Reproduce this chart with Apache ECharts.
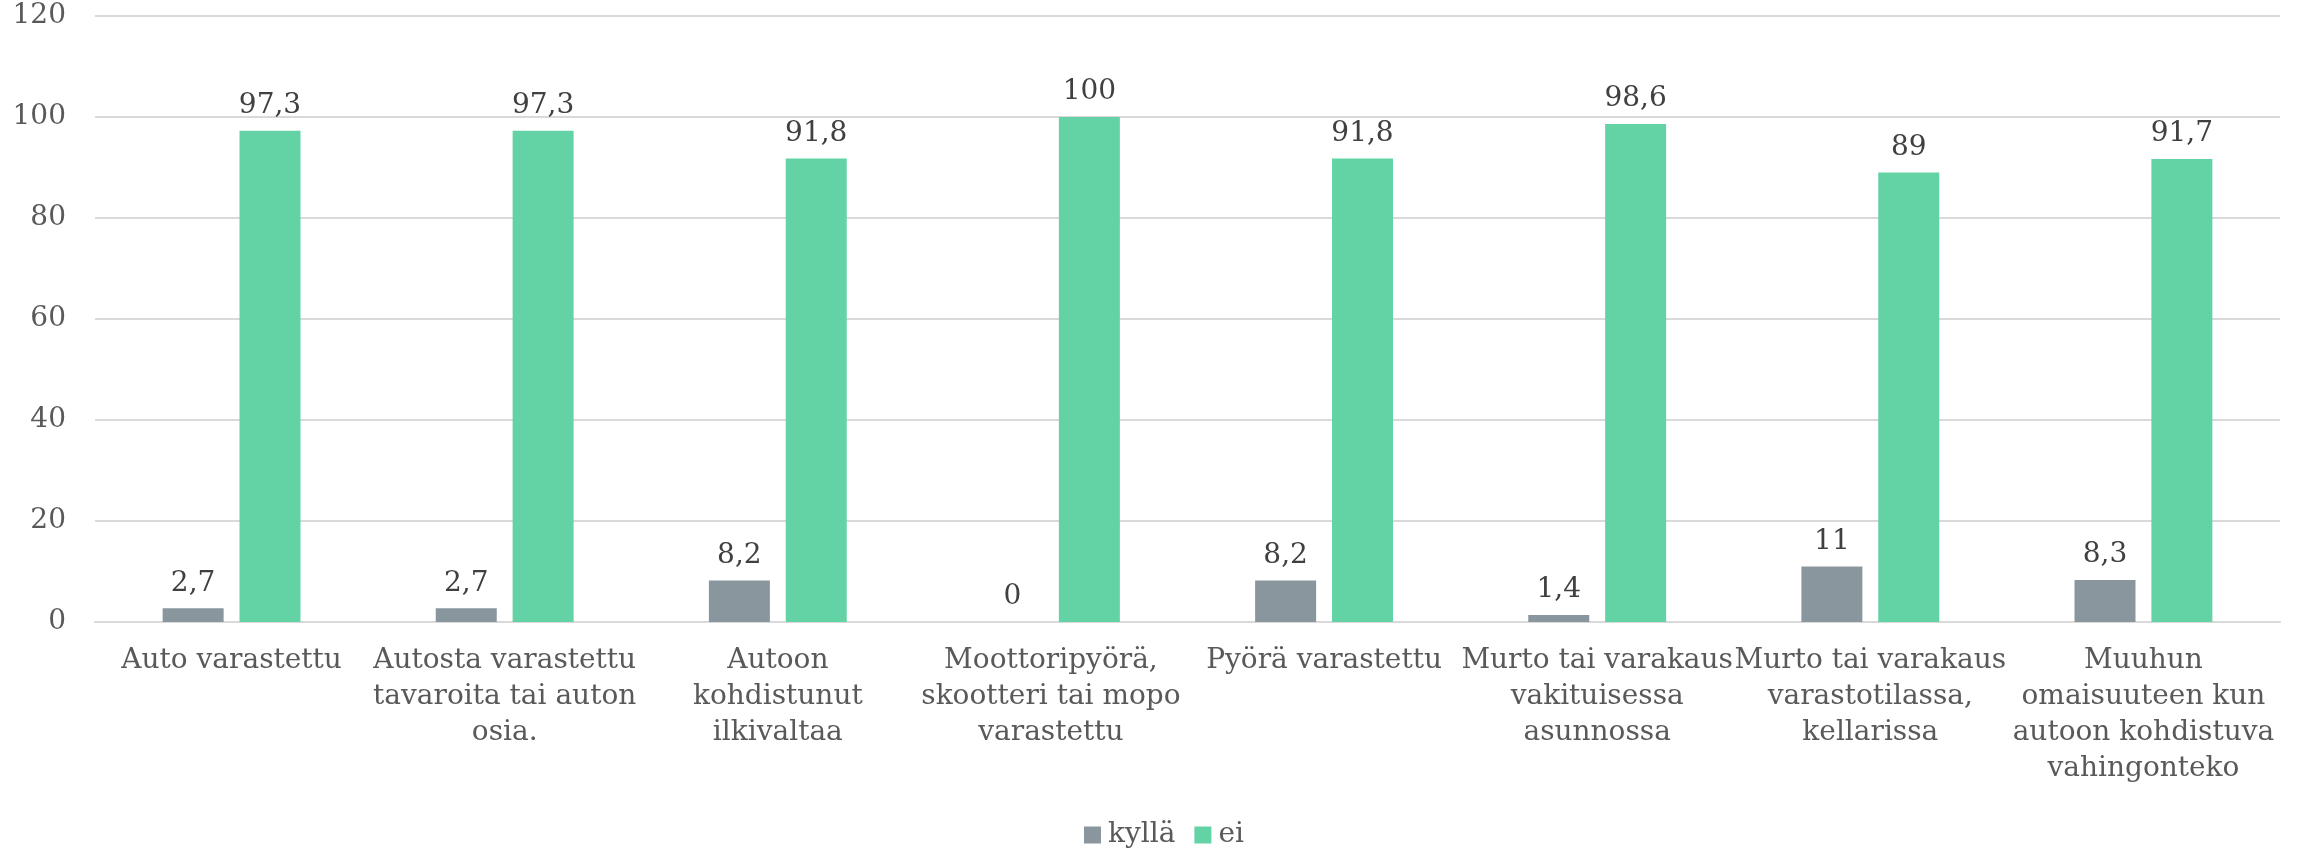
<!DOCTYPE html>
<html>
<head>
<meta charset="utf-8">
<script src="https://cdn.jsdelivr.net/npm/echarts@6/dist/echarts.min.js"></script>
<style>
html,body{margin:0;padding:0;background:#fff;}
#chart{width:2297px;height:848px;}
</style>
</head>
<body>
<div id="chart"></div>
<script>
const categories = [
  "Auto varastettu",
  "Autosta varastettu\ntavaroita tai auton\nosia.",
  "Autoon\nkohdistunut\nilkivaltaa",
  "Moottoripyörä,\nskootteri tai mopo\nvarastettu",
  "Pyörä varastettu",
  "Murto tai varakaus\nvakituisessa\nasunnossa",
  "Murto tai varakaus\nvarastotilassa,\nkellarissa",
  "Muuhun\nomaisuuteen kun\nautoon kohdistuva\nvahingonteko"
];
const seriesNames = ["kyllä", "ei"];
const kyllaValues = [2.7, 2.7, 8.2, 0, 8.2, 1.4, 11, 8.3];
const eiValues = [97.3, 97.3, 91.8, 100, 91.8, 98.6, 89, 91.7];

const FONT = "'DejaVu Serif', serif";
const fmt = p => String(p.value).replace('.', ',');

const chart = echarts.init(document.getElementById('chart'), null, {renderer: 'canvas'});
const labelStyle = {
  show: true, position: 'top', distance: 11, formatter: fmt,
  color: '#404040', fontFamily: FONT, fontSize: 28
};
chart.setOption({
  animation: false,
  backgroundColor: '#ffffff',
  grid: {left: 95, right: 17, top: 16, bottom: 226, containLabel: false},
  legend: {
    data: seriesNames,
    left: 1079, top: 815,
    itemWidth: 17, itemHeight: 17, itemGap: 19,
    icon: 'rect',
    textStyle: {fontFamily: FONT, fontSize: 28, color: '#595959', lineHeight: 30, padding: [0,0,0,2]}
  },
  xAxis: {
    type: 'category',
    data: categories,
    axisTick: {show: false},
    axisLine: {lineStyle: {color: '#d9d9d9', width: 2}},
    axisLabel: {
      interval: 0, margin: 21,
      fontFamily: FONT, fontSize: 28, lineHeight: 36, color: '#595959', align: 'center'
    }
  },
  yAxis: {
    type: 'value', min: 0, max: 120, interval: 20,
    axisLine: {show: false}, axisTick: {show: false},
    splitLine: {lineStyle: {color: '#d9d9d9', width: 2}},
    axisLabel: {fontFamily: FONT, fontSize: 28, color: '#595959', margin: 29}
  },
  series: [
    {
      name: seriesNames[0], type: 'bar', data: kyllaValues,
      barWidth: 61, barGap: '26%',
      itemStyle: {color: '#8a969e'},
      label: labelStyle
    },
    {
      name: seriesNames[1], type: 'bar', data: eiValues,
      barWidth: 61, barGap: '26%',
      itemStyle: {color: '#63d3a6'},
      label: labelStyle
    }
  ]
});
</script>
</body>
</html>
